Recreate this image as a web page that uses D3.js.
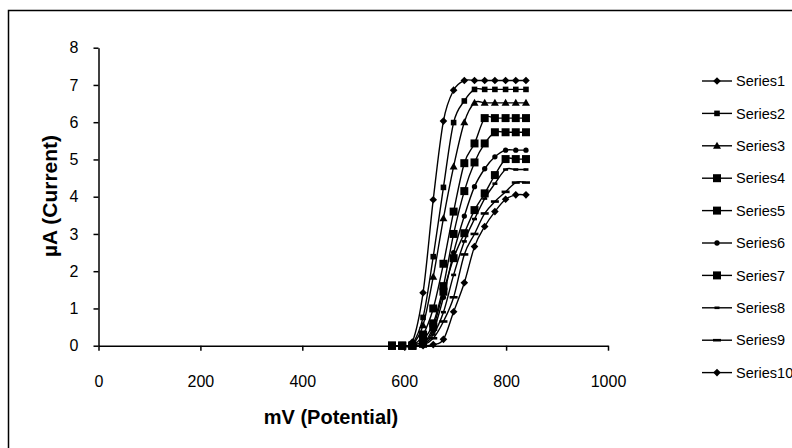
<!DOCTYPE html>
<html>
<head>
<meta charset="utf-8">
<script src="https://cdn.jsdelivr.net/npm/d3@7"></script>
<style>
  html, body { margin: 0; padding: 0; background: #fff; }
  svg { display: block; font-family: "Liberation Sans", Arial, sans-serif; }
</style>
</head>
<body>
<div id="app"></div>
<script>
// x positions (mV) shared by all series
const mV = [576, 596, 616, 637, 657, 677, 697, 718, 738, 758, 778, 799, 819, 839];

const series1  = [0, 0, 0, 0,    0.03, 0.17, 0.91, 1.69, 2.66, 3.20, 3.60, 3.93, 4.05, 4.05];
const series2  = [0, 0, 0.05, 0.76, 2.39, 4.25, 5.99, 6.57, 6.88, 6.88, 6.88, 6.88, 6.88, 6.88];
const series3  = [0, 0, 0.03, 0.55, 1.85, 3.42, 4.81, 6.00, 6.52, 6.52, 6.52, 6.52, 6.52, 6.52];
const series4  = [0, 0, 0,    0.30, 1.00, 2.20, 3.60, 4.90, 5.43, 6.11, 6.11, 6.11, 6.11, 6.11];
const series5  = [0, 0, 0,    0.15, 0.60, 1.60, 3.00, 4.15, 4.92, 5.43, 5.73, 5.73, 5.73, 5.73];
const series6  = [0, 0, 0,    0.05, 0.40, 1.30, 2.50, 3.48, 4.27, 4.75, 5.07, 5.25, 5.25, 5.25];
const series7  = [0, 0, 0,    0.05, 0.50, 1.45, 2.35, 3.02, 3.64, 4.09, 4.58, 5.01, 5.01, 5.01];
const series8  = [0, 0, 0,    0.03, 0.30, 0.90, 1.90, 2.80, 3.40, 3.95, 4.35, 4.73, 4.73, 4.73];
const series9  = [0, 0, 0,    0.02, 0.20, 0.65, 1.30, 2.45, 3.00, 3.55, 3.87, 4.13, 4.38, 4.38];
const series10 = [0, 0, 0.10, 1.42, 3.92, 6.03, 6.86, 7.12, 7.12, 7.12, 7.12, 7.12, 7.12, 7.12];

const seriesNames = ["Series1", "Series2", "Series3", "Series4", "Series5",
                     "Series6", "Series7", "Series8", "Series9", "Series10"];
const seriesValues = [series1, series2, series3, series4, series5,
                      series6, series7, series8, series9, series10];
const markerShapes = ["diamond", "square", "triangle", "bigsquare", "bigsquare",
                      "circle", "bigsquare", "dash", "widedash", "diamond"];

const xTicks = [0, 200, 400, 600, 800, 1000];
const yTicks = [0, 1, 2, 3, 4, 5, 6, 7, 8];

const width = 792,
  height = 448;

const svg = d3.select("#app")
  .append("svg")
  .attr("width", width)
  .attr("height", height);

// chart border (runs off the right and bottom edges)
svg.append("rect")
  .attr("x", 8.5)
  .attr("y", 10.5)
  .attr("width", 820)
  .attr("height", 460)
  .attr("fill", "none")
  .attr("stroke", "#000")
  .attr("stroke-width", 1.5);

const x = d3.scaleLinear().domain([0, 1000]).range([98.5, 608]);
const y = d3.scaleLinear().domain([0, 8]).range([345.7, 47.7]);

const xAxis = svg.append("g")
  .attr("transform", `translate(0,${y(0)})`)
  .call(d3.axisBottom(x).tickValues(xTicks).tickFormat(d3.format("d"))
    .tickSize(5).tickSizeOuter(0).tickPadding(25));

const yAxis = svg.append("g")
  .attr("transform", `translate(${x(0)},0)`)
  .call(d3.axisLeft(y).tickValues(yTicks).tickSize(5).tickSizeOuter(0).tickPadding(15));

[xAxis, yAxis].forEach(g => {
  g.select(".domain").attr("stroke", "#000").attr("stroke-width", 1.5);
  g.selectAll(".tick line").attr("stroke", "#000").attr("stroke-width", 1.5);
  g.selectAll(".tick text")
    .attr("fill", "#000")
    .style("font-family", '"Liberation Sans", Arial, sans-serif')
    .style("font-size", "16px");
});

// axis titles
svg.append("text")
  .attr("x", 331)
  .attr("y", 424)
  .attr("text-anchor", "middle")
  .style("font-size", "20px")
  .style("font-weight", "bold")
  .text("mV (Potential)");

svg.append("text")
  .attr("transform", "translate(57,196) rotate(-90)")
  .attr("text-anchor", "middle")
  .style("font-size", "21px")
  .style("font-weight", "bold")
  .text("µA (Current)");

function markerPath(shape) {
  switch (shape) {
    case "diamond": return "M0,-3.8L3.8,0L0,3.8L-3.8,0Z";
    case "square": return "M-2.8,-2.8H2.8V2.8H-2.8Z";
    case "bigsquare": return "M-4,-4H4V4H-4Z";
    case "triangle": return "M0,-4L4,3L-4,3Z";
    case "circle": return d3.symbol(d3.symbolCircle, 22)();
    case "dash": return "M-2.5,-1.3H2.5V1.3H-2.5Z";
    case "widedash": return "M-4,-1.3H4V1.3H-4Z";
  }
}

const line = d3.line()
  .x((d, i) => x(mV[i]))
  .y(d => y(d))
  .curve(d3.curveCardinal.tension(0));

const plot = svg.append("g");

seriesValues.forEach((vals, si) => {
  plot.append("path")
    .attr("d", line(vals))
    .attr("fill", "none")
    .attr("stroke", "#000")
    .attr("stroke-width", 1.4);

  plot.selectAll(null)
    .data(vals)
    .enter()
    .append("path")
    .attr("transform", (d, i) => `translate(${x(mV[i])},${y(d)})`)
    .attr("d", markerPath(markerShapes[si]))
    .attr("fill", "#000");
});

// legend
const legend = svg.append("g");
const legendItem = legend.selectAll("g")
  .data(seriesNames)
  .enter()
  .append("g")
  .attr("transform", (d, i) => `translate(0,${81 + i * 32.4})`);

legendItem.append("line")
  .attr("x1", 702)
  .attr("x2", 732)
  .attr("stroke", "#000")
  .attr("stroke-width", 1.4);

legendItem.append("path")
  .attr("transform", "translate(717,0)")
  .attr("d", (d, i) => markerPath(markerShapes[i]))
  .attr("fill", "#000");

legendItem.append("text")
  .attr("x", 736)
  .attr("dy", "0.36em")
  .style("font-size", "14.5px")
  .text(d => d);
</script>
</body>
</html>
